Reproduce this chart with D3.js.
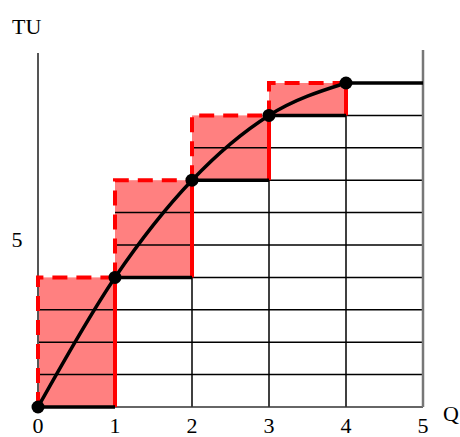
<!DOCTYPE html>
<html><head><meta charset="utf-8">
<script src="https://cdn.jsdelivr.net/npm/d3@7"></script>
<style>html,body{margin:0;padding:0;background:#fff;}svg{display:block;}</style>
</head><body>
<svg id="c" width="460" height="437"></svg>
<script>
const quantities = [0, 1, 2, 3, 4];
const totalUtility = [0, 4, 7, 9, 10];
const xTicks = [0, 1, 2, 3, 4, 5];
const yTickLabels = [5];
const xLabel = "Q";
const yLabel = "TU";

const FONT = "'Liberation Serif', 'Times New Roman', Times, 'DejaVu Serif', serif";
const svg = d3.select("#c");
const x = d3.scaleLinear().domain([0, 5]).range([38, 423]);
const y = d3.scaleLinear().domain([0, 10]).range([407, 83]);

// red fill rectangles (marginal utility)
const steps = quantities.slice(0, 4).map((q, i) => ({x0: q, x1: q + 1, y0: totalUtility[i], y1: totalUtility[i + 1]}));
svg.append("g").selectAll("rect").data(steps).join("rect")
  .attr("x", d => x(d.x0)).attr("y", d => y(d.y1))
  .attr("width", d => x(d.x1) - x(d.x0)).attr("height", d => y(d.y0) - y(d.y1))
  .attr("fill", "#ff8080");

const grid = svg.append("g").attr("stroke", "#000").attr("stroke-width", 1.5);
d3.range(1, 10).forEach(k => {
  let start = 0;
  while (start < 4 && totalUtility[start + 1] <= k) start++;
  if (totalUtility[start] === k) return;
  grid.append("line").attr("x1", x(start)).attr("x2", x(5)).attr("y1", y(k)).attr("y2", y(k));
});
quantities.forEach((q, i) => {
  const k = totalUtility[i];
  if (k > 0 && k < 10) grid.append("line").attr("x1", x(q + 1)).attr("x2", x(5)).attr("y1", y(k)).attr("y2", y(k));
});
[1, 2, 3, 4].forEach(q => {
  grid.append("line").attr("x1", x(q)).attr("x2", x(q)).attr("y1", y(0)).attr("y2", y(totalUtility[q - 1]));
});
grid.append("line").attr("x1", x(0)).attr("x2", x(5)).attr("y1", y(0)).attr("y2", y(0)).attr("stroke", "#333");
svg.append("line").attr("x1", x(0)).attr("x2", x(0)).attr("y1", y(0)).attr("y2", 53).attr("stroke", "#555").attr("stroke-width", 2);
svg.append("line").attr("x1", x(5)).attr("x2", x(5)).attr("y1", y(0)).attr("y2", 50).attr("stroke", "#777").attr("stroke-width", 2.5);

// red borders
const red = svg.append("g").attr("stroke", "#ff0000").attr("fill", "none").attr("stroke-width", 4);
steps.forEach(d => {
  red.append("path").attr("d", `M${x(d.x0)},${y(d.y0)}V${y(d.y1)}H${x(d.x1)}`).attr("stroke-dasharray", "15,9");
  red.append("line").attr("x1", x(d.x1)).attr("x2", x(d.x1)).attr("y1", y(d.y0)).attr("y2", y(d.y1));
});

// black step treads
const tread = svg.append("g").attr("stroke", "#000").attr("stroke-width", 3.5);
quantities.forEach((q, i) => {
  tread.append("line").attr("x1", x(q)).attr("x2", x(q + 1)).attr("y1", y(totalUtility[i])).attr("y2", y(totalUtility[i]));
});

// TU curve
const pts = quantities.map((q, i) => [q, totalUtility[i]]);
svg.append("path").datum(pts)
  .attr("d", d3.line().x(d => x(d[0])).y(d => y(d[1])).curve(d3.curveMonotoneX))
  .attr("fill", "none").attr("stroke", "#000").attr("stroke-width", 3.5);
svg.append("g").selectAll("circle").data(pts).join("circle")
  .attr("cx", d => x(d[0])).attr("cy", d => y(d[1])).attr("r", 6.5).attr("fill", "#000");

// labels
const labels = svg.append("g").style("font-family", FONT).style("font-size", "22px").attr("fill", "#000");
labels.selectAll("text.xt").data(xTicks).join("text").attr("class", "xt")
  .attr("x", d => x(d)).attr("y", 433).attr("text-anchor", "middle").text(d => d);
labels.selectAll("text.yt").data(yTickLabels).join("text").attr("class", "yt")
  .attr("x", 17).attr("y", y(5) + 2).attr("text-anchor", "middle").text(d => d);
labels.append("text").attr("x", 12).attr("y", 34).text(yLabel);
labels.append("text").attr("x", 443).attr("y", 421).text(xLabel);
</script>
</body></html>
